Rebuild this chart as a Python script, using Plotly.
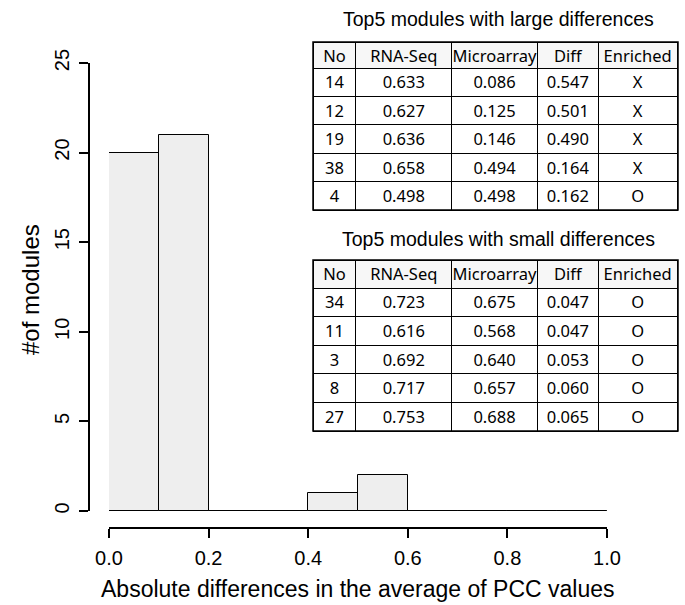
import plotly.graph_objects as go

# Histogram data
bin_edges = [0.0, 0.1, 0.2, 0.3, 0.4, 0.5, 0.6, 0.7, 0.8, 0.9, 1.0]
counts = [20, 21, 0, 0, 1, 2, 0, 0, 0, 0]

# Table data
header = ["No", "RNA-Seq", "Microarray", "Diff", "Enriched"]
large_no = ["14", "12", "19", "38", "4"]
large_rna = ["0.633", "0.627", "0.636", "0.658", "0.498"]
large_micro = ["0.086", "0.125", "0.146", "0.494", "0.498"]
large_diff = ["0.547", "0.501", "0.490", "0.164", "0.162"]
large_enr = ["X", "X", "X", "X", "O"]

small_no = ["34", "11", "3", "8", "27"]
small_rna = ["0.723", "0.616", "0.692", "0.717", "0.753"]
small_micro = ["0.675", "0.568", "0.640", "0.657", "0.688"]
small_diff = ["0.047", "0.047", "0.053", "0.060", "0.065"]
small_enr = ["O", "O", "O", "O", "O"]

W, H = 685, 605
ML, MR, MT, MB = 89, 5, 10, 77
PW = W - ML - MR
PH = H - MT - MB

def px_x(px):
    return (px - ML) / PW

def px_y(py):
    return (H - MB - py) / PH

centers = [(bin_edges[i] + bin_edges[i + 1]) / 2 for i in range(len(counts))]
widths = [bin_edges[i + 1] - bin_edges[i] for i in range(len(counts))]

fig = go.Figure()
fig.add_trace(go.Bar(
    x=centers, y=counts, width=widths,
    marker=dict(color="#eeeeee", line=dict(color="black", width=1)),
    hoverinfo="skip", showlegend=False,
))
fig.add_trace(go.Scatter(
    x=[bin_edges[0], bin_edges[-1]], y=[0, 0], mode="lines",
    line=dict(color="black", width=1), hoverinfo="skip", showlegend=False,
))

colw = [43, 96, 86, 61, 79]
tfont = dict(family="Noto Sans", size=16.5, color="black")

def add_table(cols, y0, y1, hh, ch):
    fig.add_trace(go.Table(
        domain=dict(x=[px_x(313), px_x(678)], y=[px_y(y1 + 4), px_y(y0)]),
        columnwidth=colw,
        header=dict(values=header, fill_color="#f7f7f7",
                    line=dict(color="black", width=1), font=tfont,
                    align="center", height=hh),
        cells=dict(values=cols, fill_color="white",
                   line=dict(color="black", width=1), font=tfont,
                   align="center", height=ch),
    ))
    fig.add_shape(type="rect", xref="paper", yref="paper",
                  x0=px_x(313), x1=px_x(678), y0=px_y(y1), y1=px_y(y0),
                  line=dict(color="black", width=1.5), fillcolor="rgba(0,0,0,0)")

add_table([large_no, large_rna, large_micro, large_diff, large_enr], 42, 210, 26, 28.4)
add_table([small_no, small_rna, small_micro, small_diff, small_enr], 260, 431, 28, 28.6)

afont = dict(family="Liberation Sans, Arial", size=20, color="black")
xt_font = dict(family="Liberation Sans, Arial", size=23, color="black")
yt_font = dict(family="Liberation Sans, Arial", size=24, color="black")
tt_font = dict(family="Liberation Sans, Arial", size=19.5, color="black")

def ann(text, x, y, font, angle=0):
    fig.add_annotation(text=text, xref="paper", yref="paper", x=px_x(x), y=px_y(y),
                       xanchor="center", yanchor="middle", textangle=angle,
                       showarrow=False, font=font)

ann("Top5 modules with large differences", 498, 19, tt_font)
ann("Top5 modules with small differences", 498, 239, tt_font)
ann("Absolute differences in the average of PCC values", 358, 589, xt_font)
ann("#of modules", 30, 290, yt_font, -90)

fig.update_layout(
    width=W, height=H,
    margin=dict(l=ML, r=MR, t=MT, b=MB),
    paper_bgcolor="white", plot_bgcolor="white",
    bargap=0,
    xaxis=dict(domain=[px_x(109), px_x(607)], range=[0, 1], anchor="free", position=0,
               automargin=False,
               showline=True, linecolor="black", linewidth=1.5,
               ticks="outside", ticklen=9, tickwidth=1.5, tickcolor="black",
               ticklabelstandoff=3,
               tickvals=[0, 0.2, 0.4, 0.6, 0.8, 1.0], ticktext=["0.0", "0.2", "0.4", "0.6", "0.8", "1.0"],
               tickfont=afont, showgrid=False, zeroline=False),
    yaxis=dict(domain=[px_y(511), px_y(63)], range=[0, 25], anchor="free", position=0,
               automargin=False,
               showline=True, linecolor="black", linewidth=1.5,
               ticks="outside", ticklen=9, tickwidth=1.5, tickcolor="black",
               ticklabelstandoff=2,
               tickvals=[0, 5, 10, 15, 20, 25], tickangle=-90,
               tickfont=afont, showgrid=False, zeroline=False),
)

fig.write_html("out.html", post_script="document.body.style.margin='0';",
               config={"displayModeBar": False})
